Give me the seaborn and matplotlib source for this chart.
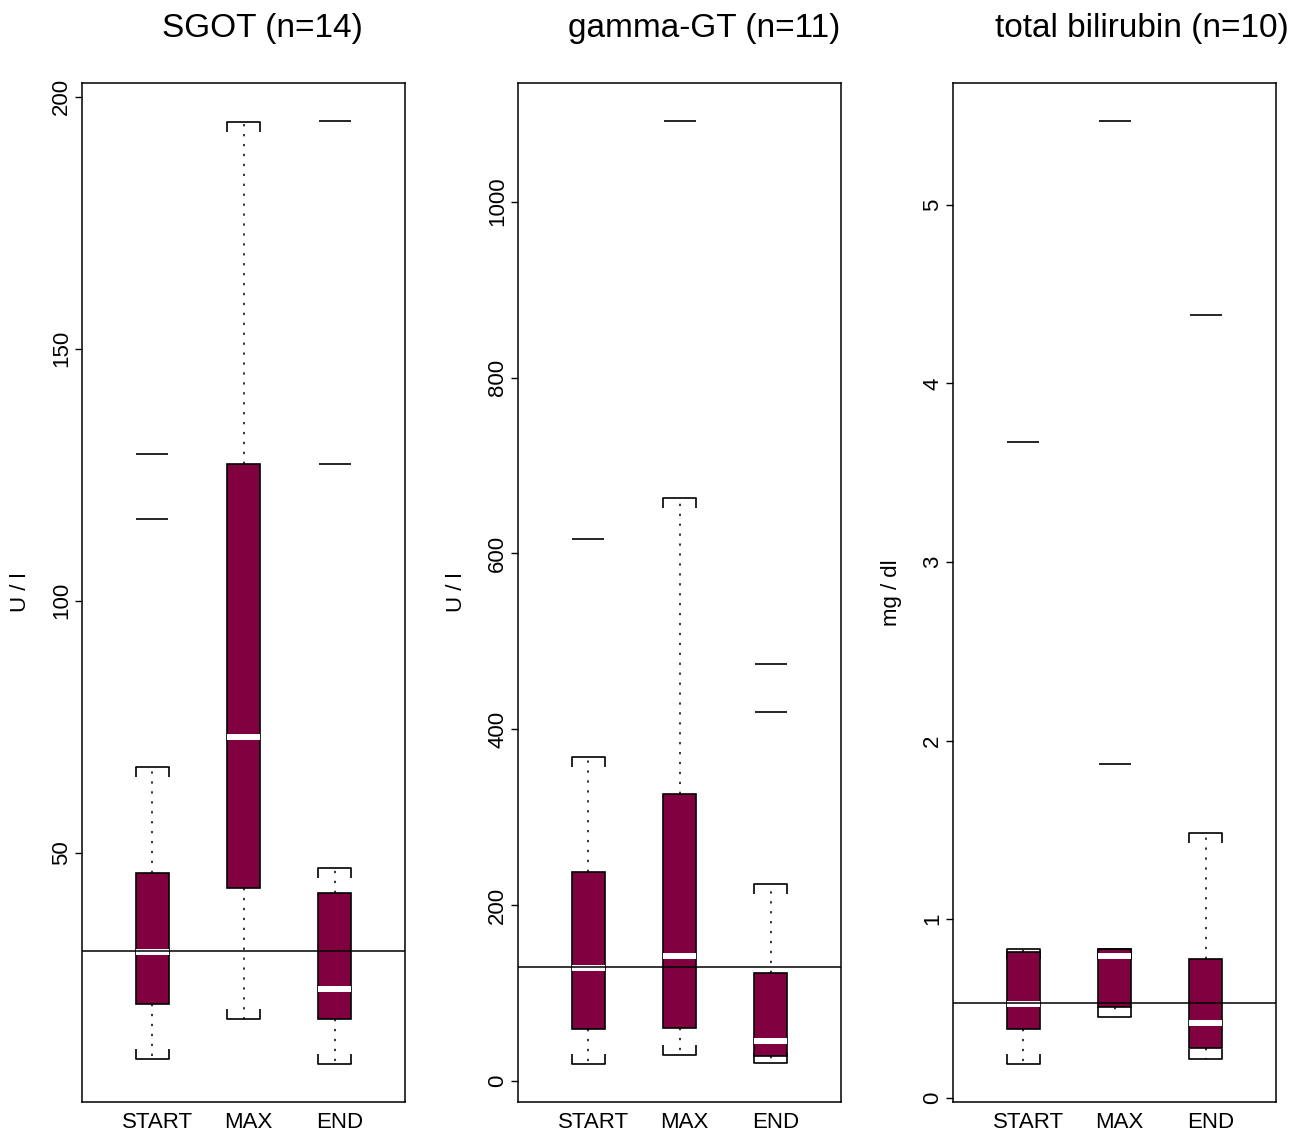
import numpy as np
import pandas as pd
import matplotlib
matplotlib.use("Agg")
import matplotlib.pyplot as plt
import matplotlib.transforms as mtrans
import seaborn as sns

# ---------------- data ----------------
groups = ["START", "MAX", "END"]
titles = ["SGOT (n=14)", "gamma-GT (n=11)", "total bilirubin (n=10)"]
ylabels = ["U / l", "U / l", "mg / dl"]

sgot_lower = [9.1, 17.0, 8.1]
sgot_q1 = [20.0, 43.0, 17.1]
sgot_median = [30.4, 73.0, 23.0]
sgot_q3 = [46.0, 127.2, 42.0]
sgot_upper = [67.0, 195.0, 47.1]
sgot_outliers = [[116.3, 129.2], [], [127.2, 195.2]]
sgot_reference = 30.6
sgot_ticks = [50, 100, 150, 200]

ggt_lower = [19.3, 29.5, 20.5]
ggt_q1 = [59.0, 60.2, 28.4]
ggt_median = [128.7, 142.4, 45.8]
ggt_q3 = [237.5, 326.5, 123.5]
ggt_upper = [369.0, 662.7, 224.0]
ggt_outliers = [[616.3], [1092.0], [420.0, 474.0]]
ggt_reference = 130.0
ggt_ticks = [0, 200, 400, 600, 800, 1000]

bili_lower = [0.188, 0.454, 0.219]
bili_q1 = [0.387, 0.510, 0.277]
bili_median = [0.528, 0.795, 0.417]
bili_q3 = [0.814, 0.833, 0.777]
bili_upper = [0.833, 0.833, 1.485]
bili_outliers = [[3.67], [1.87, 5.47], [4.38]]
bili_reference = 0.532
bili_ticks = [0, 1, 2, 3, 4, 5]

panels = [
    (sgot_lower, sgot_q1, sgot_median, sgot_q3, sgot_upper, sgot_outliers, sgot_reference, sgot_ticks),
    (ggt_lower, ggt_q1, ggt_median, ggt_q3, ggt_upper, ggt_outliers, ggt_reference, ggt_ticks),
    (bili_lower, bili_q1, bili_median, bili_q3, bili_upper, bili_outliers, bili_reference, bili_ticks),
]

# ---------------- style ----------------
sns.set_theme(style="white")
plt.rcParams["font.family"] = ["Liberation Sans", "DejaVu Sans"]

FILL = "#800040"
W, H = 1291, 1137
fig = plt.figure(figsize=(W / 100, H / 100), dpi=100)
fig.patch.set_facecolor("white")

ax_left_px = [82, 518, 953]
title_cx = [262, 704, 1142]
ax_top_px, ax_bot_px = 83, 1102
ax_w_px = 323

positions = np.arange(1, len(groups) + 1)
box_w = 0.365

for i, (lo, q1, med, q3, hi, outl, ref, ticks) in enumerate(panels):
    ax = fig.add_axes([ax_left_px[i] / W, 1 - ax_bot_px / H,
                       ax_w_px / W, (ax_bot_px - ax_top_px) / H])
    ax.set_facecolor("white")

    stats = []
    for g in range(len(groups)):
        stats.append(dict(whislo=lo[g], q1=q1[g], med=med[g], q3=q3[g],
                          whishi=hi[g], fliers=[], label=groups[g]))
    ax.bxp(stats, positions=positions, widths=box_w, capwidths=box_w,
           showfliers=False, patch_artist=True,
           boxprops=dict(facecolor=FILL, edgecolor="black", linewidth=1.2),
           medianprops=dict(color="white", linewidth=4.3, solid_capstyle="butt"),
           whiskerprops=dict(color="black", linewidth=1.1, linestyle=(0, (1.5, 5))),
           capprops=dict(color="black", linewidth=1.2))

    # y limits like R (4% extension)
    allv = list(lo) + list(hi) + [v for o in outl for v in o]
    vmin, vmax = min(allv), max(allv)
    r = vmax - vmin
    ymin, ymax = vmin - 0.04 * r, vmax + 0.04 * r
    ax.set_ylim(ymin, ymax)
    ax.set_xlim(0.23, 3.77)

    # bracket ends of caps
    tick_len = (ymax - ymin) * 10 / (ax_bot_px - ax_top_px)
    for g, p in enumerate(positions):
        for xe in (p - box_w / 2, p + box_w / 2):
            ax.vlines(xe, hi[g] - tick_len, hi[g], color="black", linewidth=1.2, zorder=1.5)
            ax.vlines(xe, lo[g], lo[g] + tick_len, color="black", linewidth=1.2, zorder=1.5)

    # outliers as horizontal dashes
    odf = pd.DataFrame({
        "x": [positions[g] for g in range(len(groups)) for _ in outl[g]],
        "y": [v for g in range(len(groups)) for v in outl[g]],
    })
    if len(odf):
        sns.scatterplot(data=odf, x="x", y="y", marker="_", s=560, color="black",
                        linewidth=1.2, ax=ax, zorder=4, legend=False)

    # reference line
    ax.axhline(ref, color="black", linewidth=1.1, zorder=5)

    # axes styling
    for sp in ax.spines.values():
        sp.set_visible(True)
        sp.set_color("black")
        sp.set_linewidth(1.1)
    ax.set_yticks(ticks)
    ax.set_yticklabels([str(t) for t in ticks], rotation=90, va="center", fontsize=16)
    ax.tick_params(axis="y", direction="out", length=5, width=1.0, color="black",
                   pad=2, left=True, labelcolor="black")
    ax.set_xticks(positions)
    ax.set_xticklabels(groups, fontsize=16, color="black")
    ax.tick_params(axis="x", length=0, pad=7)
    offset = mtrans.ScaledTranslation(5 / 100, 0, fig.dpi_scale_trans)
    for lab in ax.get_xticklabels():
        lab.set_transform(lab.get_transform() + offset)
    ax.set_xlabel("")
    ax.set_ylabel(ylabels[i], fontsize=16, color="black")
    ax.yaxis.set_label_coords(-0.157, 0.5)
    ax.grid(False)

    fig.text(title_cx[i] / W, 1 - 28 / H, titles[i], ha="center", va="center",
             fontsize=24, color="black")

fig.savefig("out.png", dpi=100, facecolor="white")
